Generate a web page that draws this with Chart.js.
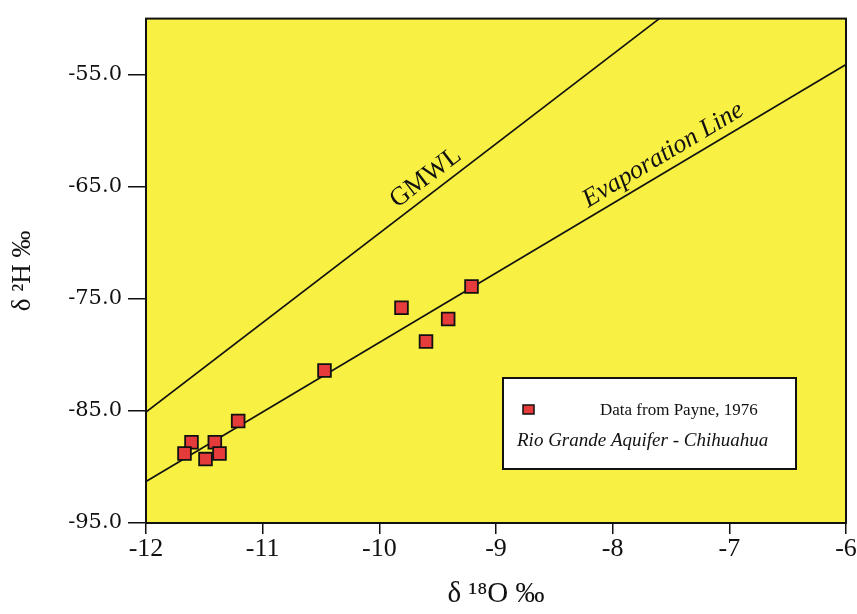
<!DOCTYPE html>
<html>
<head>
<meta charset="utf-8">
<script src="https://cdn.jsdelivr.net/npm/chart.js@4.4.1/dist/chart.umd.min.js"></script>
<style>
  html, body { margin: 0; padding: 0; background: #fff; }
  #wrap { width: 857px; height: 614px; }
</style>
</head>
<body>
<div id="wrap"><canvas id="c" width="857" height="614"></canvas></div>
<script>
/* ── data ── */
const d18O = [-9.21, -9.81, -9.41, -9.60, -10.47, -11.21, -11.61, -11.41, -11.67, -11.37, -11.49];
const d2H  = [-73.9, -75.8, -76.8, -78.8, -81.4, -85.9, -87.8, -87.8, -88.8, -88.8, -89.3];

// reference lines (end points as drawn)
const gmwlX = [-12, -7.6];
const gmwlY = [-85.1, -50];
const evapX = [-12, -6];
const evapY = [-91.3, -54.1];

const xTicks = [-12, -11, -10, -9, -8, -7, -6];
const yTicks = [-95, -85, -75, -65, -55];

const LEGEND_1 = 'Data from Payne, 1976';
const LEGEND_2 = 'Rio Grande Aquifer - Chihuahua';

/* ── colours ── */
const YELLOW = '#f8f043';
const RED    = '#e63b3b';
const INK    = '#111';

const pts = (xs, ys) => xs.map((v, i) => ({ x: v, y: ys[i] }));

// label written along a line, starting at data x = at
function lineLabel(ctx, sx, sy, xs, ys, at, text, font) {
  const x0 = sx.getPixelForValue(xs[0]), y0 = sy.getPixelForValue(ys[0]);
  const x1 = sx.getPixelForValue(xs[1]), y1 = sy.getPixelForValue(ys[1]);
  const ang = Math.atan2(y1 - y0, x1 - x0);
  const px = sx.getPixelForValue(at);
  const py = y0 + (px - x0) * (y1 - y0) / (x1 - x0);
  ctx.save();
  ctx.translate(px, py);
  ctx.rotate(ang);
  ctx.font = font;
  ctx.fillStyle = INK;
  ctx.textBaseline = 'alphabetic';
  ctx.fillText(text, 0, -9);
  ctx.restore();
}

const paper = {
  id: 'paper',
  beforeDraw(chart) {
    const { ctx, chartArea: a } = chart;
    ctx.save();
    ctx.fillStyle = YELLOW;
    ctx.fillRect(a.left, a.top, a.right - a.left, a.bottom - a.top);
    ctx.restore();
  },
  afterDraw(chart) {
    const { ctx, chartArea: a, scales: { x, y } } = chart;
    ctx.save();
    ctx.strokeStyle = INK;
    ctx.lineWidth = 2;
    ctx.strokeRect(a.left, a.top, a.right - a.left, a.bottom - a.top);

    lineLabel(ctx, x, y, gmwlX, gmwlY, -9.8, 'GMWL', "26px 'Liberation Serif'");
    lineLabel(ctx, x, y, evapX, evapY, -8.17, 'Evaporation Line', "italic 26px 'Liberation Serif'");

    // legend box
    ctx.fillStyle = '#fff';
    ctx.fillRect(503, 378, 293, 91);
    ctx.lineWidth = 2;
    ctx.strokeRect(503, 378, 293, 91);
    ctx.fillStyle = RED;
    ctx.fillRect(523, 405, 11, 9);
    ctx.lineWidth = 1.5;
    ctx.strokeRect(523, 405, 11, 9);
    ctx.fillStyle = INK;
    ctx.textBaseline = 'middle';
    ctx.font = "17px 'Liberation Serif'";
    ctx.fillText(LEGEND_1, 600, 411);
    ctx.font = "italic 19px 'Liberation Serif'";
    ctx.fillText(LEGEND_2, 517, 441);
    ctx.restore();
  }
};

new Chart(document.getElementById('c'), {
  type: 'scatter',
  data: {
    datasets: [
      {
        label: 'Payne 1976',
        data: pts(d18O, d2H),
        pointStyle: 'rect',
        pointRadius: 9,
        backgroundColor: RED,
        borderColor: INK,
        borderWidth: 1.8,
      },
      {
        label: 'GMWL',
        data: pts(gmwlX, gmwlY),
        showLine: true,
        pointRadius: 0,
        borderColor: INK,
        borderWidth: 1.6,
      },
      {
        label: 'Evaporation Line',
        data: pts(evapX, evapY),
        showLine: true,
        pointRadius: 0,
        borderColor: INK,
        borderWidth: 1.6,
      }
    ]
  },
  options: {
    responsive: false,
    animation: false,
    events: [],
    layout: { padding: { top: 13, right: 11, left: 0, bottom: 0 } },
    plugins: { legend: { display: false }, tooltip: { enabled: false } },
    scales: {
      x: {
        min: -12, max: -6,
        afterBuildTicks: ax => { ax.ticks = xTicks.map(v => ({ value: v })); },
        afterFit: ax => { ax.height = 91; },
        grid: { drawOnChartArea: false, tickLength: 11, color: INK, lineWidth: 1.5 },
        border: { color: INK, width: 2 },
        ticks: {
          color: INK, padding: 0, maxRotation: 0,
          font: { family: 'Liberation Serif', size: 26 },
          callback: v => String(v)
        },
        title: {
          display: true, text: 'δ ¹⁸O ‰', color: INK,
          font: { family: 'Liberation Serif', size: 29 },
          padding: { top: 0, bottom: 2 }
        }
      },
      y: {
        min: -95, max: -50,
        afterBuildTicks: ax => { ax.ticks = yTicks.map(v => ({ value: v })); },
        afterFit: ax => { ax.width = 146; },
        grid: { drawOnChartArea: false, tickLength: 18, color: INK, lineWidth: 1.5 },
        border: { color: INK, width: 2 },
        ticks: {
          color: INK, padding: 6,
          font: { family: 'DejaVu Serif', size: 21 },
          callback: v => v.toFixed(1)
        },
        title: {
          display: true, text: 'δ ²H ‰', color: INK,
          font: { family: 'Liberation Serif', size: 27 },
          padding: { top: 7, bottom: 0 }
        }
      }
    }
  },
  plugins: [paper]
});
</script>
</body>
</html>
